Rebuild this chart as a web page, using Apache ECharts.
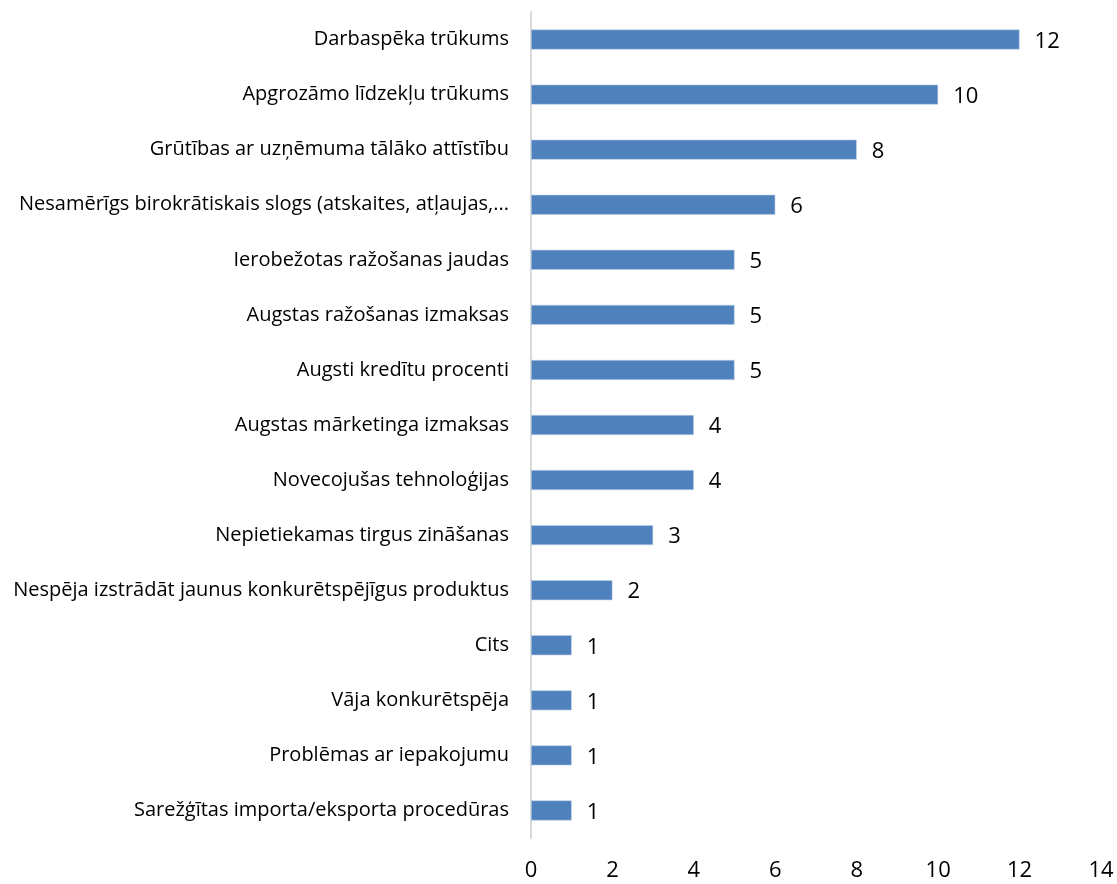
<!DOCTYPE html>
<html>
<head>
<meta charset="utf-8">
<script src="https://cdn.jsdelivr.net/npm/echarts@6/dist/echarts.min.js"></script>
<style>
html,body{margin:0;padding:0;background:#fff;}
#chart{width:1117px;height:884px;}
</style>
</head>
<body>
<div id="chart"></div>
<script>
var categories = [
	'Darbaspēka trūkums',
	'Apgrozāmo līdzekļu trūkums',
	'Grūtības ar uzņēmuma tālāko attīstību',
	'Nesamērīgs birokrātiskais slogs (atskaites, atļaujas,...',
	'Ierobežotas ražošanas jaudas',
	'Augstas ražošanas izmaksas',
	'Augsti kredītu procenti',
	'Augstas mārketinga izmaksas',
	'Novecojušas tehnoloģijas',
	'Nepietiekamas tirgus zināšanas',
	'Nespēja izstrādāt jaunus konkurētspējīgus produktus',
	'Cits',
	'Vāja konkurētspēja',
	'Problēmas ar iepakojumu',
	'Sarežģītas importa/eksporta procedūras'
];
var values = [12, 10, 8, 6, 5, 5, 5, 4, 4, 3, 2, 1, 1, 1, 1];
var xTicks = [0, 14, 2];

var chart = echarts.init(document.getElementById('chart'));
var font = '"Open Sans", "Noto Sans", sans-serif';

var option = {
	animation: false,
	grid: {left: 531, right: 16, top: 12, bottom: 46, containLabel: false},
	xAxis: {
		type: 'value',
		min: xTicks[0],
		max: xTicks[1],
		interval: xTicks[2],
		axisLine: {show: false},
		axisTick: {show: false},
		splitLine: {show: false},
		axisLabel: {
			color: '#000',
			fontSize: 22,
			fontFamily: font,
			margin: 22
		}
	},
	yAxis: {
		type: 'category',
		inverse: true,
		data: categories,
		axisLine: {show: true, lineStyle: {color: '#d9d9d9', width: 2}},
		axisTick: {show: false},
		axisLabel: {
			color: '#000',
			fontSize: 20,
			fontFamily: font,
			margin: 22
		}
	},
	series: [{
		type: 'bar',
		data: values,
		barWidth: 20,
		itemStyle: {color: '#4F81BD', borderColor: '#bcd0ea', borderWidth: 0.6},
		label: {
			show: true,
			position: 'right',
			distance: 15,
			offset: [0, 2],
			color: '#000',
			fontSize: 22,
			fontFamily: font
		}
	}]
};

chart.setOption(option);
</script>
</body>
</html>
